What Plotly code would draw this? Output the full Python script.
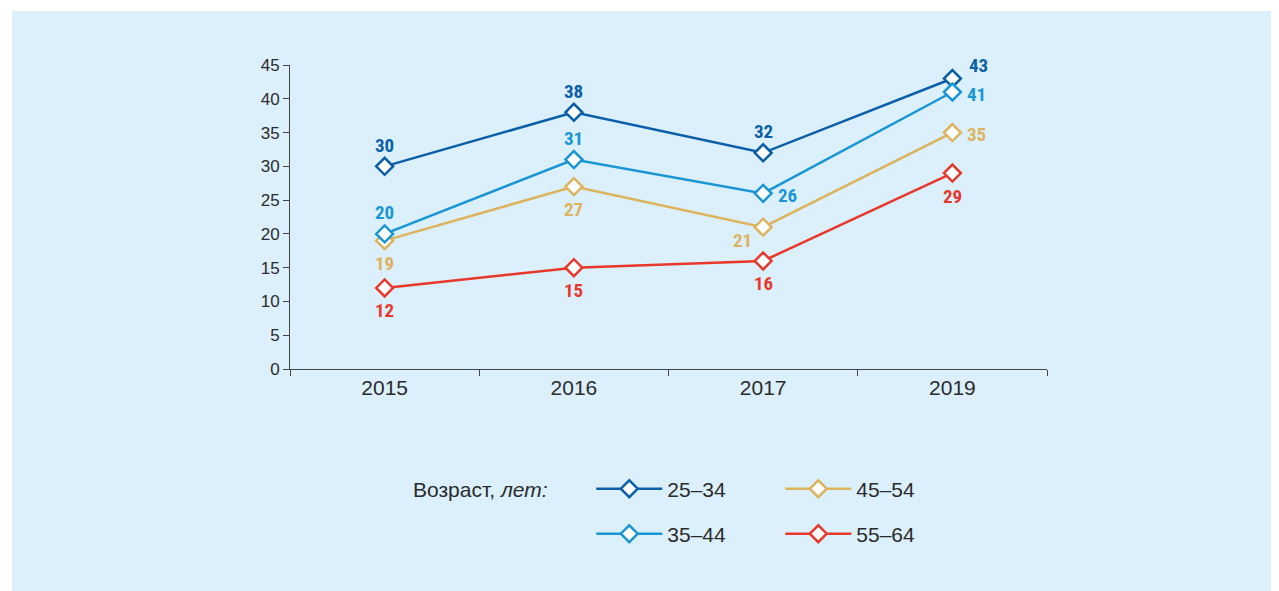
import plotly.graph_objects as go

years = ["2015", "2016", "2017", "2019"]
age_groups = ["25–34", "35–44", "45–54", "55–64"]
values = {
    "25–34": [30, 38, 32, 43],
    "35–44": [20, 31, 26, 41],
    "45–54": [19, 27, 21, 35],
    "55–64": [12, 15, 16, 29],
}
colors = {
    "25–34": "#0b5ea8",
    "35–44": "#1996d3",
    "45–54": "#ddb35e",
    "55–64": "#e8382c",
}
# где стоит подпись значения относительно точки
label_pos = {
    "25–34": ["top", "top", "top", "top right"],
    "35–44": ["top", "top", "right", "right"],
    "45–54": ["bottom", "bottom", "bottom left", "right"],
    "55–64": ["bottom", "bottom", "bottom", "bottom"],
}
shifts = {
    "top": (0, 21),
    "bottom": (0, -23),
    "right": (24, -2),
    "top right": (26, 13),
    "bottom left": (-21, -13),
}
legend_of = {"25–34": "legend", "45–54": "legend", "35–44": "legend2", "55–64": "legend2"}

fig = go.Figure()
annotations = []

# порядок трасс задаёт порядок в легендах
for name in ["25–34", "45–54", "35–44", "55–64"]:
    fig.add_trace(go.Scatter(
        x=years, y=values[name], name=name,
        mode="lines+markers",
        line=dict(color=colors[name], width=2.5),
        marker=dict(symbol="diamond", size=13, color="white",
                    line=dict(color=colors[name], width=2.5)),
        legend=legend_of[name],
    ))
    for i, (v, pos) in enumerate(zip(values[name], label_pos[name])):
        dx, dy = shifts[pos]
        annotations.append(dict(
            x=i, y=v, xref="x", yref="y", text="<b>%d</b>" % v, showarrow=False,
            xshift=dx, yshift=dy,
            font=dict(family="Liberation Sans Narrow, Roboto Condensed, Roboto",
                      size=19, color=colors[name]),
        ))

annotations.append(dict(text="Возраст, <i>лет:</i>", xref="paper", yref="paper",
                        x=0.16, y=-0.395, xanchor="left", yanchor="middle",
                        showarrow=False, font=dict(size=21)))

bg = "#dbf0fb"
axis_col = "#444444"

# страница даёт отступ 8px, поэтому поля и размер уменьшены
fig.update_layout(
    width=1271, height=583,
    margin=dict(l=282, r=232, t=57, b=222),
    paper_bgcolor="white",
    plot_bgcolor="rgba(0,0,0,0)",
    font=dict(family="Liberation Sans, Arial", color="#2b2b2b"),
    showlegend=True,
    xaxis=dict(type="category", range=[-0.5, 3.5], showline=True, linecolor=axis_col,
               ticks="outside", tickson="boundaries", ticklen=6, tickcolor=axis_col,
               showgrid=False, zeroline=False, tickfont=dict(size=21)),
    yaxis=dict(range=[0, 45], dtick=5, showline=True, linecolor=axis_col,
               ticks="outside", ticklen=6, tickcolor=axis_col,
               showgrid=False, zeroline=False, tickfont=dict(size=17)),
    legend=dict(orientation="h", x=0.398, y=-0.395, xanchor="left", yanchor="middle",
                bgcolor="rgba(0,0,0,0)", font=dict(size=21), entrywidth=108,
                itemwidth=66),
    legend2=dict(orientation="h", x=0.398, y=-0.543, xanchor="left", yanchor="middle",
                 bgcolor="rgba(0,0,0,0)", font=dict(size=21), entrywidth=108,
                 itemwidth=66),
    shapes=[dict(type="rect", xref="paper", yref="paper", layer="below",
                 x0=-0.3672, x1=1.33, y0=-0.78, y1=1.1776,
                 fillcolor=bg, line=dict(width=0))],
    annotations=annotations,
)

fig.write_html("out.html")
